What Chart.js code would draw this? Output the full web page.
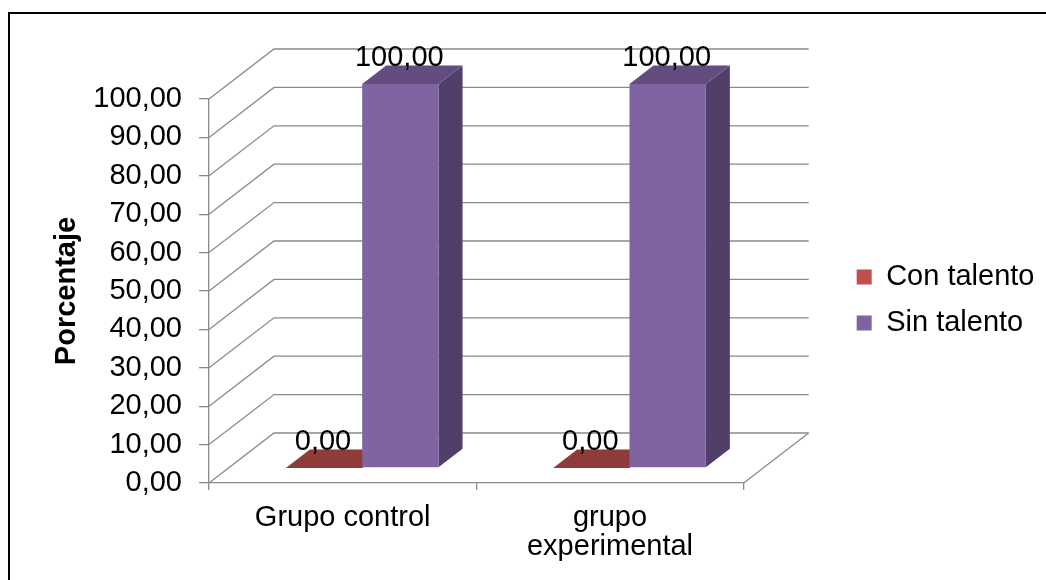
<!DOCTYPE html>
<html>
<head>
<meta charset="utf-8">
<title>Porcentaje con y sin talento</title>
<script src="https://cdn.jsdelivr.net/npm/chart.js@4.4.1/dist/chart.umd.min.js"></script>
<style>
  html, body { margin: 0; padding: 0; background: #ffffff; }
  canvas { display: block; }
</style>
</head>
<body>
<canvas id="chart" width="1046" height="580"></canvas>
<script>
// Data
const categories = ['Grupo control', ['grupo', 'experimental']];
const seriesNames = ['Con talento', 'Sin talento'];
const conTalento = [0, 0];
const sinTalento = [100, 100];
const yTickValues = [0, 10, 20, 30, 40, 50, 60, 70, 80, 90, 100];

// Styling
const FONT = "'Liberation Sans', Arial, Helvetica, sans-serif";
const FONT_SIZE = 29;
const GRID = '#8a8a8a';
const GRID_W = 1.3;
const DEPTH_X = 65;     // oblique depth of the plot box
const DEPTH_Y = -50;
const BAR_FRONT = 0.30; // where bar fronts sit inside the depth
const BAR_DEPTH = 0.37; // bar thickness as a share of the depth
const faces = [
  { legend: '#C0504D', front: '#C0504D', top: '#8E3B39', side: '#7A2F2D' },
  { legend: '#8064A2', front: '#8064A2', top: '#634D80', side: '#513F69' }
];

const fmt = v => Number(v).toFixed(2).replace('.', ',');

Chart.defaults.font.family = FONT;
Chart.defaults.color = '#000000';

function poly(ctx, pts, fill) {
  ctx.beginPath();
  ctx.moveTo(pts[0][0], pts[0][1]);
  for (let k = 1; k < pts.length; k++) ctx.lineTo(pts[k][0], pts[k][1]);
  ctx.closePath();
  ctx.fillStyle = fill;
  ctx.fill();
}

// Oblique walls, 3D bar faces and value labels
const obliqueBars = {
  id: 'obliqueBars',
  beforeDraw(chart) {
    const ctx = chart.ctx;
    ctx.save();
    ctx.strokeStyle = '#000000';
    ctx.lineWidth = 2;
    ctx.strokeRect(9, 13, chart.width + 20, chart.height + 20);
    ctx.restore();
  },
  beforeDatasetsDraw(chart) {
    const { ctx, chartArea: a, scales: { y } } = chart;
    ctx.save();
    ctx.strokeStyle = GRID;
    ctx.lineWidth = GRID_W;
    y.ticks.forEach(t => {
      const py = y.getPixelForValue(t.value);
      ctx.beginPath();
      ctx.moveTo(a.left, py);
      ctx.lineTo(a.left + DEPTH_X, py + DEPTH_Y);
      ctx.lineTo(a.right + DEPTH_X, py + DEPTH_Y);
      ctx.stroke();
    });
    const floor = y.getPixelForValue(0);
    ctx.beginPath();
    ctx.moveTo(a.right, floor);
    ctx.lineTo(a.right + DEPTH_X, floor + DEPTH_Y);
    ctx.stroke();
    ctx.restore();
  },
  beforeDatasetDraw() {
    return false; // flat rectangles are replaced by the faces below
  },
  afterDatasetsDraw(chart) {
    const ctx = chart.ctx;
    const ox = DEPTH_X * BAR_FRONT, oy = DEPTH_Y * BAR_FRONT;
    const dx = DEPTH_X * BAR_DEPTH, dy = DEPTH_Y * BAR_DEPTH;
    const labels = [];
    ctx.save();
    chart.data.datasets.forEach((ds, i) => {
      const meta = chart.getDatasetMeta(i);
      const c = faces[i];
      meta.data.forEach((el, j) => {
        const p = el.getProps(['x', 'y', 'base', 'width'], true);
        const l = p.x - p.width / 2 + ox, r = p.x + p.width / 2 + ox;
        const t = p.y + oy, b = p.base + oy;
        if (b - t > 0.5) {
          poly(ctx, [[r, t], [r + dx, t + dy], [r + dx, b + dy], [r, b]], c.side);
          poly(ctx, [[l, t], [r, t], [r, b], [l, b]], c.front);
        }
        poly(ctx, [[l, t], [r, t], [r + dx, t + dy], [l + dx, t + dy]], c.top);
        labels.push({ x: p.x + ox - 1, y: t + dy, text: fmt(ds.data[j]) });
      });
    });
    ctx.fillStyle = '#000000';
    ctx.font = FONT_SIZE + 'px ' + FONT;
    ctx.textAlign = 'center';
    ctx.textBaseline = 'alphabetic';
    labels.forEach(lb => ctx.fillText(lb.text, lb.x, lb.y));
    ctx.restore();
  }
};

new Chart(document.getElementById('chart'), {
  type: 'bar',
  data: {
    labels: categories,
    datasets: [
      { label: seriesNames[0], data: conTalento, backgroundColor: faces[0].legend, borderWidth: 0 },
      { label: seriesNames[1], data: sinTalento, backgroundColor: faces[1].legend, borderWidth: 0 }
    ]
  },
  options: {
    responsive: false,
    animation: false,
    categoryPercentage: 0.571,
    barPercentage: 1.0,
    layout: { padding: { left: 10, top: 99, right: 1.5, bottom: 0 } },
    plugins: {
      tooltip: { enabled: false },
      legend: {
        position: 'right',
        align: 'center',
        fullSize: false,
        maxWidth: 320,
        title: { display: true, text: ' ', padding: 0, font: { size: 15, lineHeight: 1.2 } },
        labels: {
          boxWidth: 15,
          boxHeight: 15,
          padding: 17,
          color: '#000000',
          font: { size: FONT_SIZE, family: FONT }
        }
      }
    },
    scales: {
      x: {
        type: 'category',
        grid: { display: true, drawOnChartArea: false, drawTicks: true, tickLength: 7, color: GRID, lineWidth: GRID_W, offset: true },
        border: { display: true, color: GRID, width: GRID_W },
        ticks: { color: '#000000', font: { size: FONT_SIZE, family: FONT, lineHeight: 1.02 }, padding: 13, maxRotation: 0, autoSkip: false },
        afterFit(s) { s.height = 97; }
      },
      y: {
        type: 'linear',
        min: 0,
        max: 100,
        afterBuildTicks(s) { s.ticks = yTickValues.map(v => ({ value: v })); },
        grid: { display: true, drawOnChartArea: false, drawTicks: true, tickLength: 10, color: GRID, lineWidth: GRID_W },
        border: { display: true, color: GRID, width: GRID_W },
        ticks: { color: '#000000', font: { size: FONT_SIZE, family: FONT }, padding: 17, callback: v => fmt(v) },
        title: {
          display: true,
          text: 'Porcentaje',
          color: '#000000',
          font: { size: FONT_SIZE, weight: 'bold', family: FONT },
          padding: { top: 39.6, bottom: 0 }
        },
        afterFit(s) { s.width = 199; }
      },
      gap: {
        type: 'linear',
        position: 'right',
        display: true,
        grid: { display: false },
        border: { display: false },
        ticks: { display: false },
        afterFit(s) { s.width = 96; }
      }
    }
  },
  plugins: [obliqueBars]
});
</script>
</body>
</html>
